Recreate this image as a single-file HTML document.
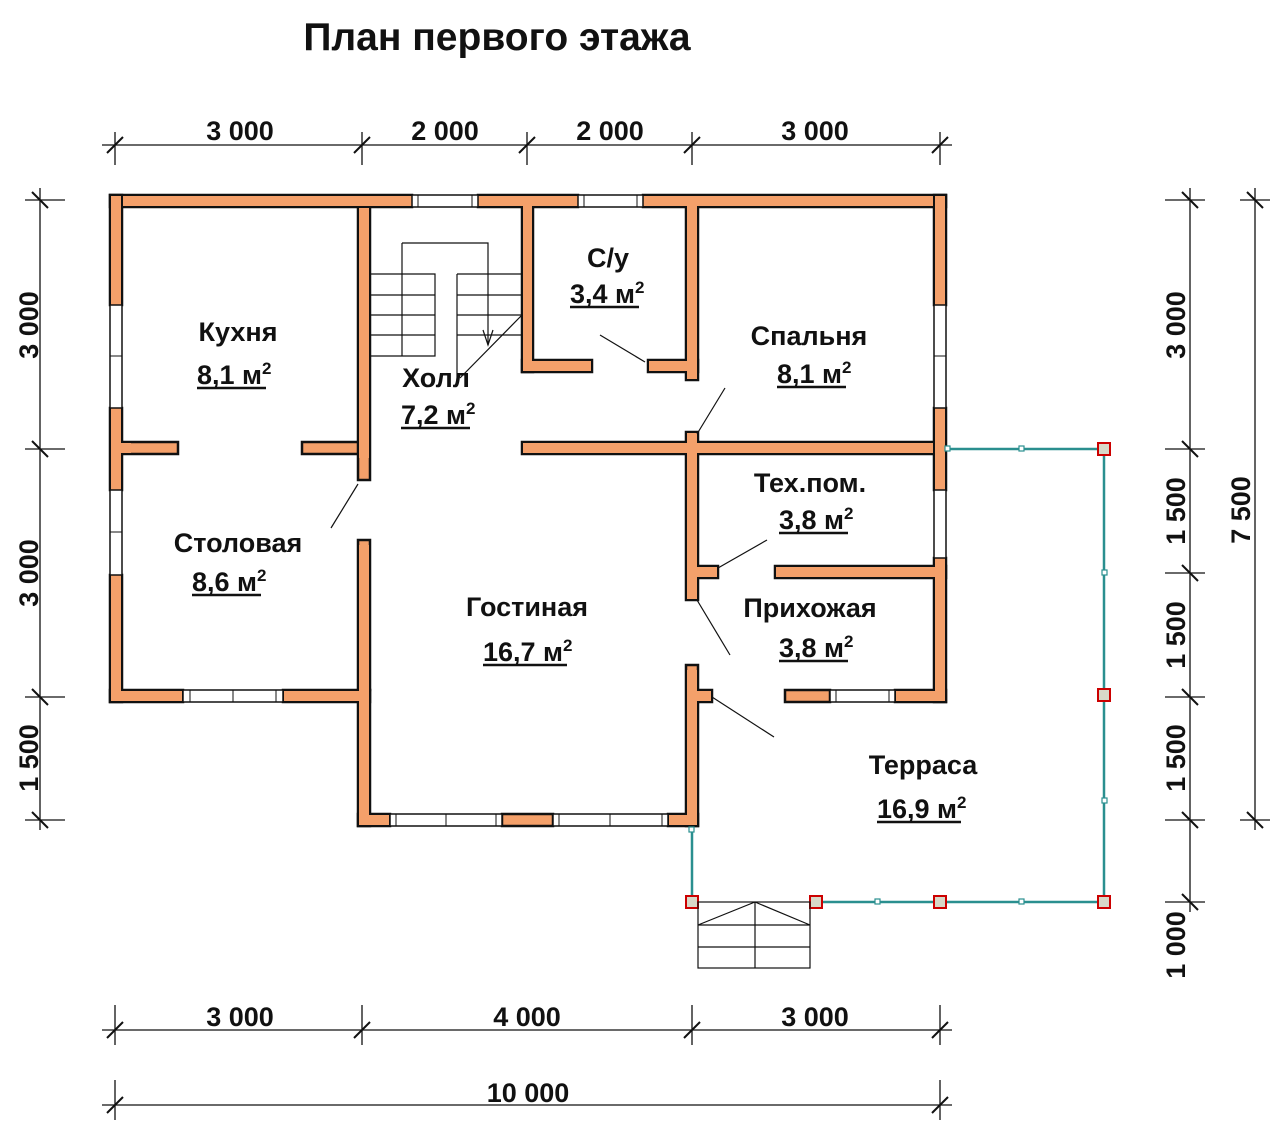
<!DOCTYPE html>
<html><head><meta charset="utf-8"><style>
html,body{margin:0;padding:0;background:#fff;}
svg{display:block;}
text{font-family:"Liberation Sans",Arial,sans-serif;font-weight:bold;fill:#111;}
</style></head><body>
<svg width="1280" height="1132" viewBox="0 0 1280 1132" xmlns="http://www.w3.org/2000/svg">
<text x="497" y="50" font-size="39" text-anchor="middle">План первого этажа</text>

<g stroke="#111" stroke-width="1.3" fill="none">
<line x1="102" y1="145" x2="952" y2="145"/>
<line x1="115" y1="132" x2="115" y2="165"/><line x1="362" y1="132" x2="362" y2="165"/><line x1="527" y1="132" x2="527" y2="165"/><line x1="692" y1="132" x2="692" y2="165"/><line x1="940" y1="132" x2="940" y2="165"/>
<path d="M107 153L123 137M354 153L370 137M519 153L535 137M684 153L700 137M932 153L948 137" stroke-width="2"/>
<line x1="102" y1="1030" x2="952" y2="1030"/>
<line x1="115" y1="1005" x2="115" y2="1045"/><line x1="362" y1="1005" x2="362" y2="1045"/><line x1="692" y1="1005" x2="692" y2="1045"/><line x1="940" y1="1005" x2="940" y2="1045"/>
<path d="M107 1038L123 1022M354 1038L370 1022M684 1038L700 1022M932 1038L948 1022" stroke-width="2"/>
<line x1="102" y1="1105" x2="952" y2="1105"/>
<line x1="115" y1="1080" x2="115" y2="1120"/><line x1="940" y1="1080" x2="940" y2="1120"/>
<path d="M107 1113L123 1097M932 1113L948 1097" stroke-width="2"/>
<line x1="40" y1="188" x2="40" y2="830"/>
<line x1="25" y1="200" x2="65" y2="200"/><line x1="25" y1="449" x2="65" y2="449"/><line x1="25" y1="697" x2="65" y2="697"/><line x1="25" y1="820" x2="65" y2="820"/>
<path d="M32 192L48 208M32 441L48 457M32 689L48 705M32 812L48 828" stroke-width="2"/>
<line x1="1190" y1="188" x2="1190" y2="912"/>
<line x1="1165" y1="200" x2="1205" y2="200"/><line x1="1165" y1="449" x2="1205" y2="449"/><line x1="1165" y1="573" x2="1205" y2="573"/><line x1="1165" y1="697" x2="1205" y2="697"/><line x1="1165" y1="820" x2="1205" y2="820"/><line x1="1165" y1="902" x2="1205" y2="902"/>
<path d="M1182 192L1198 208M1182 441L1198 457M1182 565L1198 581M1182 689L1198 705M1182 812L1198 828M1182 894L1198 910" stroke-width="2"/>
<line x1="1255" y1="188" x2="1255" y2="830"/>
<line x1="1240" y1="200" x2="1270" y2="200"/><line x1="1240" y1="820" x2="1270" y2="820"/>
<path d="M1247 192L1263 208M1247 812L1263 828" stroke-width="2"/>
</g>
<g font-size="27" text-anchor="middle">
<text x="240" y="140">3 000</text><text x="445" y="140">2 000</text><text x="610" y="140">2 000</text><text x="815" y="140">3 000</text>
<text x="240" y="1026">3 000</text><text x="527" y="1026">4 000</text><text x="815" y="1026">3 000</text>
<text x="528" y="1102">10 000</text>
<text transform="translate(38,325) rotate(-90)">3 000</text>
<text transform="translate(38,573) rotate(-90)">3 000</text>
<text transform="translate(38,758) rotate(-90)">1 500</text>
<text transform="translate(1185,325) rotate(-90)">3 000</text>
<text transform="translate(1185,511) rotate(-90)">1 500</text>
<text transform="translate(1185,635) rotate(-90)">1 500</text>
<text transform="translate(1185,758) rotate(-90)">1 500</text>
<text transform="translate(1185,945) rotate(-90)">1 000</text>
<text transform="translate(1250,510) rotate(-90)">7 500</text>
</g>

<!-- walls -->
<g fill="#F4A06A" stroke="#111" stroke-width="2.5">
<rect x="110" y="195" width="302" height="12"/>
<rect x="478" y="195" width="100" height="12"/>
<rect x="643" y="195" width="303" height="12"/>
<rect x="110" y="195" width="12" height="110"/>
<rect x="110" y="408" width="12" height="82"/>
<rect x="110" y="575" width="12" height="127"/>
<rect x="934" y="195" width="12" height="110"/>
<rect x="934" y="408" width="12" height="82"/>
<rect x="934" y="558" width="12" height="144"/>
<rect x="110" y="690" width="73" height="12"/>
<rect x="283" y="690" width="87" height="12"/>
<rect x="358" y="690" width="12" height="136"/>
<rect x="358" y="814" width="32" height="12"/>
<rect x="502" y="814" width="51" height="12"/>
<rect x="668" y="814" width="30" height="12"/>
<rect x="686" y="665" width="12" height="161"/>
<rect x="358" y="207" width="12" height="273"/>
<rect x="358" y="540" width="12" height="150"/>
<rect x="122" y="442" width="56" height="12"/>
<rect x="302" y="442" width="56" height="12"/>
<rect x="522" y="442" width="412" height="12"/>
<rect x="522" y="207" width="11" height="165"/>
<rect x="522" y="360" width="70" height="12"/>
<rect x="648" y="360" width="50" height="12"/>
<rect x="686" y="207" width="12" height="173"/>
<rect x="686" y="432" width="12" height="168"/>
<rect x="698" y="566" width="20" height="12"/>
<rect x="775" y="566" width="171" height="12"/>
<rect x="785" y="690" width="45" height="12"/>
<rect x="895" y="690" width="51" height="12"/>
<rect x="698" y="690" width="14" height="12"/>
</g>
<g fill="#F4A06A">
<rect x="123" y="196" width="810" height="10"/>
<rect x="111" y="196" width="10" height="505"/>
<rect x="935" y="196" width="10" height="505"/>
<rect x="111" y="443" width="20" height="10"/>
<rect x="359" y="208" width="10" height="250"/>
<rect x="359" y="443" width="10" height="10"/>
<rect x="523" y="443" width="410" height="10"/>
<rect x="687" y="433" width="10" height="166"/>
<rect x="523" y="196" width="9" height="175"/>
<rect x="523" y="361" width="68" height="10"/>
<rect x="687" y="196" width="10" height="183"/>
<rect x="649" y="361" width="48" height="10"/>
<rect x="697" y="567" width="20" height="10"/>
<rect x="776" y="567" width="169" height="10"/>
<rect x="111" y="691" width="71" height="10"/>
<rect x="284" y="691" width="85" height="10"/>
<rect x="359" y="545" width="10" height="280"/>
<rect x="687" y="670" width="10" height="155"/>
<rect x="669" y="815" width="28" height="10"/>
<rect x="359" y="815" width="30" height="10"/>
<rect x="896" y="691" width="49" height="10"/>
<rect x="697" y="691" width="14" height="10"/>
</g>
<!-- windows -->
<g fill="#fff" stroke="#111" stroke-width="1.5">
<rect x="412" y="195" width="66" height="12"/><rect x="578" y="195" width="65" height="12"/>
<rect x="110" y="305" width="12" height="103"/><rect x="110" y="490" width="12" height="85"/>
<rect x="934" y="305" width="12" height="103"/><rect x="934" y="490" width="12" height="68"/>
<rect x="183" y="690" width="100" height="12"/><rect x="830" y="690" width="65" height="12"/>
<rect x="390" y="814" width="112" height="12"/><rect x="553" y="814" width="115" height="12"/>
</g>
<g stroke="#111" stroke-width="1">
<line x1="110" y1="356" x2="122" y2="356"/><line x1="110" y1="532" x2="122" y2="532"/>
<line x1="934" y1="356" x2="946" y2="356"/><line x1="233" y1="690" x2="233" y2="702"/>
<line x1="446" y1="814" x2="446" y2="826"/><line x1="610" y1="814" x2="610" y2="826"/>
<line x1="190" y1="690" x2="190" y2="702"/><line x1="276" y1="690" x2="276" y2="702"/>
<line x1="396" y1="814" x2="396" y2="826"/><line x1="496" y1="814" x2="496" y2="826"/>
<line x1="559" y1="814" x2="559" y2="826"/><line x1="662" y1="814" x2="662" y2="826"/>
<line x1="836" y1="690" x2="836" y2="702"/><line x1="889" y1="690" x2="889" y2="702"/>
<line x1="418" y1="195" x2="418" y2="207"/><line x1="472" y1="195" x2="472" y2="207"/>
<line x1="584" y1="195" x2="584" y2="207"/><line x1="637" y1="195" x2="637" y2="207"/>
</g>

<!-- stairs -->
<g stroke="#111" stroke-width="1.2" fill="none">
<path d="M402 243H488V345"/>
<path d="M370 274H435V356H370M370 295H435M370 315H435M370 335H435"/>
<path d="M457 274V380M457 274H522M457 295H522M457 315H522M457 335H522"/>
<path d="M402 243V356"/>
<path d="M522 315L460 378"/>
<path d="M483 330L488 345L493 330"/>
<path d="M358 484L331 528"/>
<path d="M645 362L600 335"/>
<path d="M697 434L725 388"/>
<path d="M718 568L767 540"/>
<path d="M697 600L730 655"/>
<path d="M712 697L774 737"/>
</g>

<!-- terrace railing -->
<g stroke="#2a8f8f" stroke-width="2.5" fill="none">
<path d="M946 449H1104V902H816"/>
<path d="M692 830V902"/>
</g>
<g fill="#fff" stroke="#2a8f8f" stroke-width="1.2">
<rect x="945" y="446" width="5" height="5"/><rect x="1019" y="446" width="5" height="5"/>
<rect x="1102" y="570" width="5" height="5"/><rect x="1102" y="798" width="5" height="5"/>
<rect x="1019" y="899" width="5" height="5"/><rect x="875" y="899" width="5" height="5"/>
<rect x="689" y="827" width="5" height="5"/>
</g>
<g fill="#d8d8c8" stroke="#c00" stroke-width="2">
<rect x="1098" y="443" width="12" height="12"/><rect x="1098" y="689" width="12" height="12"/>
<rect x="1098" y="896" width="12" height="12"/><rect x="934" y="896" width="12" height="12"/>
<rect x="810" y="896" width="12" height="12"/><rect x="686" y="896" width="12" height="12"/>
</g>
<g stroke="#111" stroke-width="1.2" fill="none">
<rect x="698" y="902" width="112" height="66"/>
<path d="M698 925H810M698 947H810M755 902V968M698 925L755 902L810 925"/>
</g>

<!-- room labels -->
<g font-size="27" text-anchor="middle">
<text x="238" y="341">Кухня</text>
<text x="436" y="387">Холл</text>
<text x="608" y="267">С/у</text>
<text x="809" y="345">Спальня</text>
<text x="810" y="492">Тех.пом.</text>
<text x="238" y="552">Столовая</text>
<text x="527" y="616">Гостиная</text>
<text x="810" y="617">Прихожая</text>
<text x="923" y="774">Терраса</text>
</g>
<g font-size="27">
<text x="197" y="384">8,1 м<tspan font-size="17" dy="-10">2</tspan></text>
<text x="401" y="424">7,2 м<tspan font-size="17" dy="-10">2</tspan></text>
<text x="570" y="303">3,4 м<tspan font-size="17" dy="-10">2</tspan></text>
<text x="777" y="383">8,1 м<tspan font-size="17" dy="-10">2</tspan></text>
<text x="779" y="529">3,8 м<tspan font-size="17" dy="-10">2</tspan></text>
<text x="192" y="591">8,6 м<tspan font-size="17" dy="-10">2</tspan></text>
<text x="483" y="661">16,7 м<tspan font-size="17" dy="-10">2</tspan></text>
<text x="779" y="657">3,8 м<tspan font-size="17" dy="-10">2</tspan></text>
<text x="877" y="818">16,9 м<tspan font-size="17" dy="-10">2</tspan></text>
</g>
<g stroke="#111" stroke-width="2.5">
<line x1="197" y1="388" x2="266" y2="388"/>
<line x1="401" y1="428" x2="470" y2="428"/>
<line x1="570" y1="307" x2="639" y2="307"/>
<line x1="777" y1="387" x2="846" y2="387"/>
<line x1="779" y1="533" x2="848" y2="533"/>
<line x1="192" y1="595" x2="261" y2="595"/>
<line x1="483" y1="665" x2="567" y2="665"/>
<line x1="779" y1="661" x2="848" y2="661"/>
<line x1="877" y1="822" x2="961" y2="822"/>
</g>
</svg>
</body></html>
